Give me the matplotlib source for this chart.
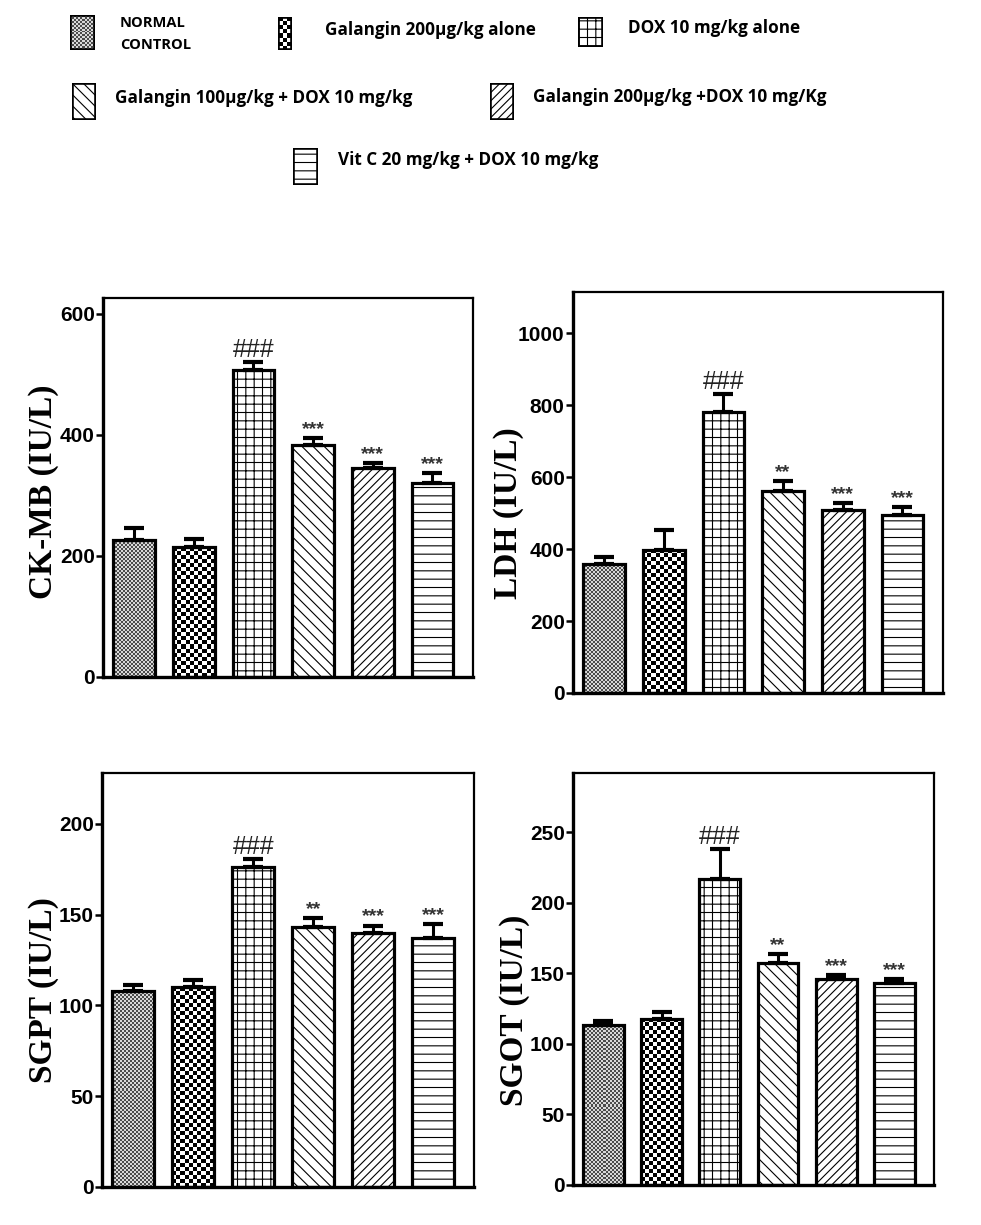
import matplotlib
matplotlib.use("Agg")
import matplotlib.pyplot as plt
import numpy as np

# ---------------------------------------------------------------
# data
# ---------------------------------------------------------------
GROUPS = ["NORMAL\nCONTROL", "Galangin 200µg/kg alone", "DOX 10 mg/kg alone",
          "Galangin 100µg/kg + DOX 10 mg/kg", "Galangin 200µg/kg +DOX 10 mg/Kg",
          "Vit C 20 mg/kg + DOX 10 mg/kg"]

CKMB_MEAN = [226, 214, 507, 383, 345, 320]
CKMB_SEM = [20, 14, 14, 11, 9, 17]
CKMB_MARK = ["", "", "###", "***", "***", "***"]

LDH_MEAN = [359, 398, 782, 562, 509, 495]
LDH_SEM = [19, 56, 48, 28, 20, 23]
LDH_MARK = ["", "", "###", "**", "***", "***"]

SGPT_MEAN = [108, 110, 176, 143, 140, 137]
SGPT_SEM = [3, 4, 4.5, 5, 4, 8]
SGPT_MARK = ["", "", "###", "**", "***", "***"]

SGOT_MEAN = [113.5, 118, 217, 157, 146, 143.5]
SGOT_SEM = [3, 4.5, 21, 6.5, 2.5, 2.5]
SGOT_MARK = ["", "", "###", "**", "***", "***"]

W, H = 981, 1225
SANS = ["Liberation Sans", "DejaVu Sans"]
SERIF = ["Liberation Serif", "DejaVu Serif"]
plt.rcParams["hatch.linewidth"] = 0.8

# fill style per group: ('checker', cell px, dark, light) or ('hatch', pattern)
FILLS = [("checker", 2, 0.30, 0.85), ("checker", 4, 0.0, 1.0), ("hatch", "++"),
         ("hatch", "\\\\\\"), ("hatch", "////"), ("hatch", "--")]


def fpx(x, y):
    return x / W, 1 - y / H


def rect_px(left, top, right, bottom):
    return [left / W, 1 - bottom / H, (right - left) / W, (bottom - top) / H]


def checker_fill(ax, patch, cell, dark, light):
    x0, y0 = patch.get_x(), patch.get_y()
    w, h = patch.get_width(), patch.get_height()
    (a0, b0), (a1, b1) = ax.transData.transform([(x0, y0), (x0 + w, y0 + h)])
    nx = max(1, int(round(abs(a1 - a0) / cell)))
    ny = max(1, int(round(abs(b1 - b0) / cell)))
    arr = np.add.outer(np.arange(ny), np.arange(nx)) % 2
    arr = np.where(arr == 1, light, dark)
    im = ax.imshow(arr, cmap="gray", vmin=0, vmax=1, extent=(x0, x0 + w, y0, y0 + h),
                   interpolation="nearest", aspect="auto", zorder=1.5)
    im.set_clip_path(patch)


def draw_bars(ax, x, heights, width, lw=2.3):
    bars = ax.bar(x, heights, width, facecolor="none", edgecolor="black",
                  linewidth=lw, zorder=2)
    for b, f in zip(bars, FILLS):
        if f[0] == "hatch":
            b.set_hatch(f[1])
            b.set_facecolor("white")
    for b, f in zip(bars, FILLS):
        if f[0] == "checker":
            checker_fill(ax, b, f[1], f[2], f[3])
    return bars


def panel(rect, mean, sem, marks, ymax, yticks, ylabel, label_xy):
    ax = fig.add_axes(rect)
    x = np.arange(len(mean))
    ax.set_xlim(-0.52, 5.68)
    ax.set_ylim(0, ymax)
    draw_bars(ax, x, mean, 0.7)
    ax.errorbar(x, mean, yerr=[np.zeros(len(sem)), sem], fmt="none", ecolor="black",
                elinewidth=2.2, capsize=7, capthick=3, zorder=3)
    for xi, m, s, t in zip(x, mean, sem, marks):
        if not t:
            continue
        if t.startswith("#"):
            ax.annotate(t, (xi, m + s), xytext=(0, 0), textcoords="offset points",
                        ha="center", va="bottom", fontsize=18, family=SANS,
                        color="#222222")
        else:
            ax.annotate(t, (xi, m + s), xytext=(0, 0), textcoords="offset points",
                        ha="center", va="bottom", fontsize=14, family=SANS,
                        fontweight="bold", color="#333333")
    ax.set_xticks([])
    ax.set_yticks(yticks)
    ax.set_yticklabels([str(v) for v in yticks], family=SANS, fontweight="bold",
                       fontsize=15)
    ax.tick_params(axis="y", direction="out", length=5, width=1.8, pad=1)
    for side in ["left", "bottom"]:
        ax.spines[side].set_linewidth(2.4)
    for side in ["top", "right"]:
        ax.spines[side].set_linewidth(1.6)
    fx, fy = fpx(*label_xy)
    fig.text(fx, fy, ylabel, rotation=90, ha="center", va="center",
             family=SERIF, fontweight="bold", fontsize=24)
    return ax


fig = plt.figure(figsize=(W / 100, H / 100), dpi=100)

panel(rect_px(103, 298, 473, 677), CKMB_MEAN, CKMB_SEM, CKMB_MARK, 626,
      [0, 200, 400, 600], "CK-MB (IU/L)", (44, 492))
panel(rect_px(573, 292, 943, 693), LDH_MEAN, LDH_SEM, LDH_MARK, 1115,
      [0, 200, 400, 600, 800, 1000], "LDH (IU/L)", (508, 513))
panel(rect_px(102, 773, 474, 1187), SGPT_MEAN, SGPT_SEM, SGPT_MARK, 228,
      [0, 50, 100, 150, 200], "SGPT (IU/L)", (44, 990))
panel(rect_px(573, 773, 934, 1185), SGOT_MEAN, SGOT_SEM, SGOT_MARK, 292,
      [0, 50, 100, 150, 200, 250], "SGOT (IU/L)", (514, 1010))

# ---------------------------------------------------------------
# legend (pattern swatches + labels)
# ---------------------------------------------------------------
SWATCH_PX = [(70, 15, 95, 50), (278, 17, 292, 50), (578, 17, 603, 47),
             (72, 83, 96, 120), (490, 83, 514, 120), (293, 148, 318, 185)]
LABEL_PX = [(120, 34), (325, 30), (628, 28), (115, 98), (533, 97), (338, 160)]

for i, (sw, lp) in enumerate(zip(SWATCH_PX, LABEL_PX)):
    lax = fig.add_axes(rect_px(*sw))
    lax.set_xlim(0, 1)
    lax.set_ylim(0, 1)
    bars = lax.bar([0.5], [1], 1.0, facecolor="none", edgecolor="black",
                   linewidth=2.6, zorder=2)
    f = FILLS[i]
    if f[0] == "hatch":
        bars[0].set_hatch(f[1])
        bars[0].set_facecolor("white")
    else:
        checker_fill(lax, bars[0], f[1], f[2], f[3])
    lax.set_xlim(0, 1)
    lax.set_ylim(0, 1)
    lax.axis("off")
    fx, fy = fpx(*lp)
    if i == 0:
        fig.text(fx, fy, GROUPS[i], ha="left", va="center", fontsize=10.5,
                 family=["Open Sans", "DejaVu Sans"], fontweight="bold",
                 linespacing=1.7)
    else:
        fig.text(fx, fy, GROUPS[i], ha="left", va="center", fontsize=12.3,
                 family=["Open Sans", "DejaVu Sans"], fontweight="bold")

fig.savefig("out.png", dpi=100)
